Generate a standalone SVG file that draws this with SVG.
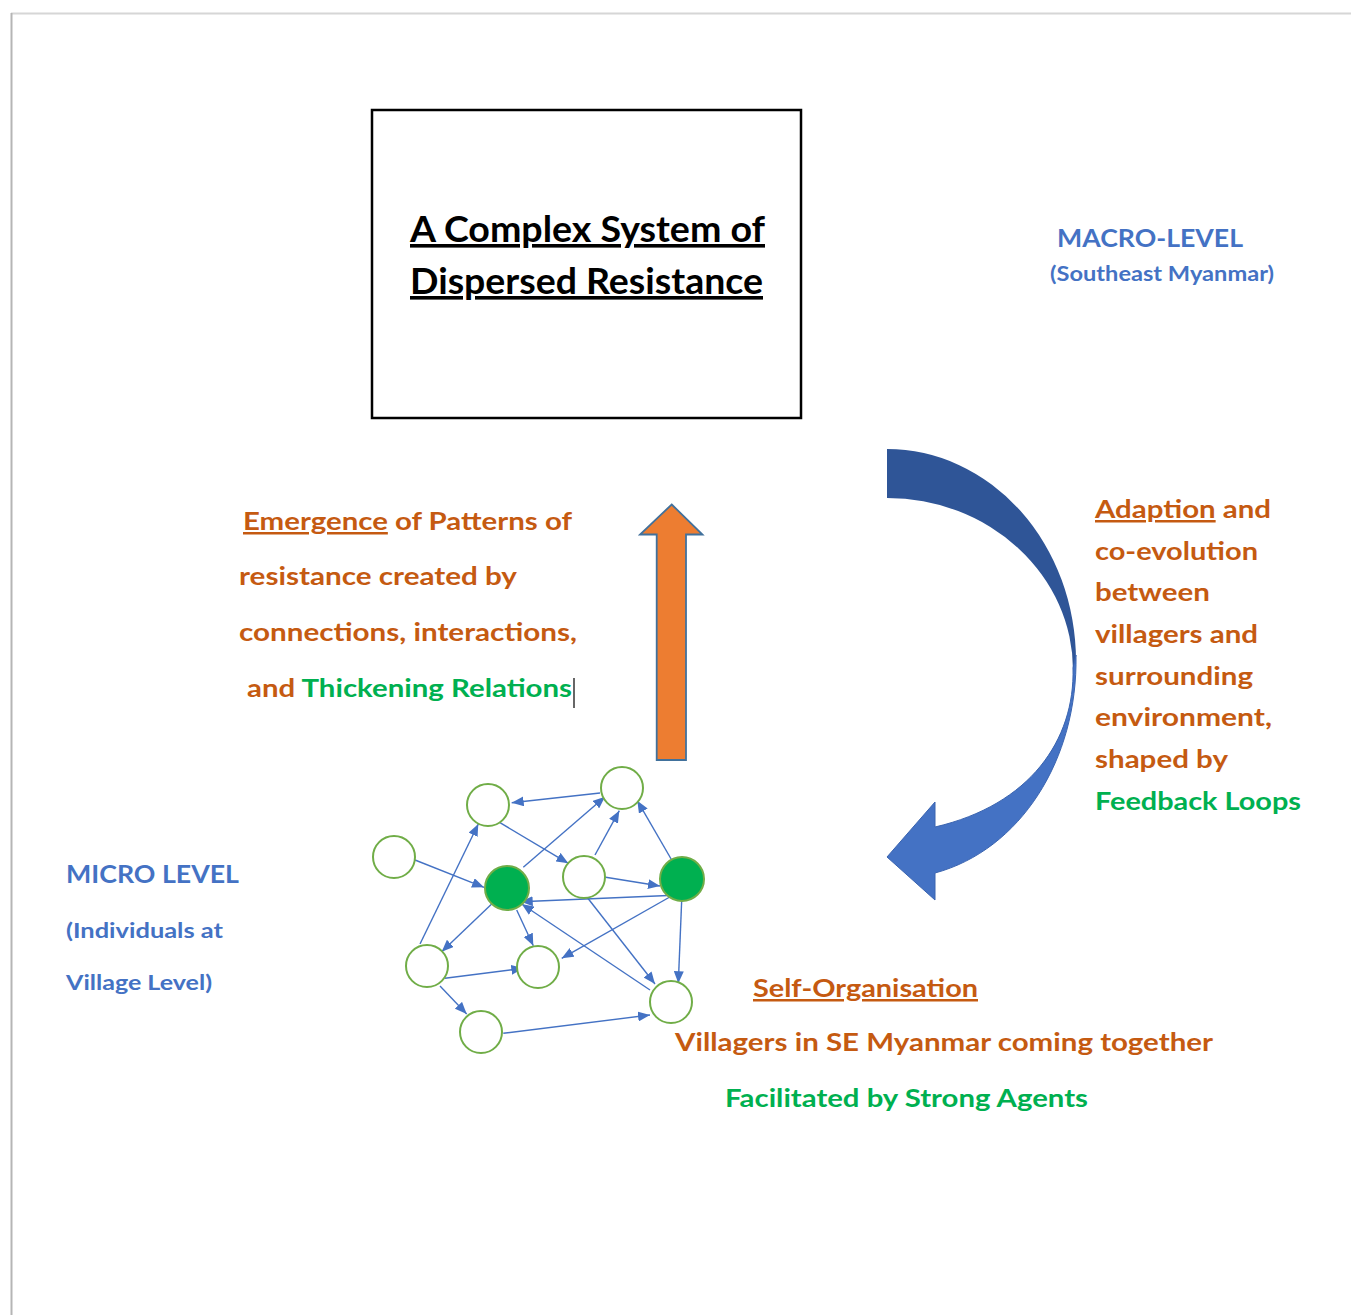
<svg xmlns="http://www.w3.org/2000/svg" width="1357" height="1315" viewBox="0 0 1357 1315">
<defs>
<marker id="ah" markerUnits="userSpaceOnUse" markerWidth="12" markerHeight="10" refX="12" refY="5" orient="auto">
<path d="M0,0 L12,5 L0,10 z" fill="#4472C4"/>
</marker>
<style>
.t{font-family:Lato,"Open Sans","Liberation Sans",sans-serif;font-weight:700;text-decoration-skip-ink:none}
.or{fill:#C55A11}
.gr{fill:#00B050}
.bl{fill:#4472C4}
.node{fill:#FFFFFF;stroke:#70AD47;stroke-width:2}
.hub{fill:#00B050;stroke:#70AD47;stroke-width:2}
.edge{stroke:#4472C4;stroke-width:1.4;fill:none;marker-end:url(#ah)}
</style>
</defs>
<rect width="1357" height="1315" fill="#FFFFFF"/>
<line x1="11" y1="13.5" x2="1351" y2="13.5" stroke="#D6D6D6" stroke-width="2"/>
<line x1="11.5" y1="13" x2="11.5" y2="1315" stroke="#B5B5B5" stroke-width="2"/>

<g id="title">
<rect x="372" y="110" width="429" height="308" fill="#FFFFFF" stroke="#000000" stroke-width="2.5"/>
<text class="t" x="410" y="242" font-size="36" fill="#000000" text-decoration="underline" textLength="355" lengthAdjust="spacingAndGlyphs">A Complex System of</text>
<text class="t" x="410" y="294" font-size="36" fill="#000000" text-decoration="underline" textLength="353" lengthAdjust="spacingAndGlyphs">Dispersed Resistance</text>
</g>

<g id="macro-label">
<text class="t bl" x="1057" y="247" font-size="24" textLength="186" lengthAdjust="spacingAndGlyphs">MACRO-LEVEL</text>
<text class="t bl" x="1050" y="281" font-size="20" textLength="224" lengthAdjust="spacingAndGlyphs">(Southeast Myanmar)</text>
</g>

<g id="emergence-arrow">
<path d="M671.7,504.5 L702.5,534.5 L686,534.5 L686,760 L656.7,760 L656.7,534.5 L640,534.5 Z" fill="#ED7D31" stroke="#41719C" stroke-width="1.8" stroke-linejoin="miter"/>
</g>

<g id="emergence-label">
<text class="t or" x="243" y="530" font-size="25" textLength="329" lengthAdjust="spacingAndGlyphs"><tspan text-decoration="underline">Emergence</tspan> of Patterns of</text>
<text class="t or" x="239" y="585" font-size="25" textLength="278" lengthAdjust="spacingAndGlyphs">resistance created by</text>
<text class="t or" x="239" y="641" font-size="25" textLength="338" lengthAdjust="spacingAndGlyphs">connections, interactions,</text>
<text class="t or" x="247" y="697" font-size="25" textLength="325" lengthAdjust="spacingAndGlyphs">and <tspan class="gr">Thickening Relations</tspan></text>
<line x1="574" y1="678" x2="574" y2="708" stroke="#000000" stroke-width="1.2"/>
</g>

<g id="adaption-arrow">
<path d="M887,449 A189,212 0 0 1 1076,661 L1073,670 A186,172 0 0 0 887,498 Z" fill="#2F5597"/>
<path d="M1076,655 C1078,760 1020,850 935,873 L935,900 L887,857 L935,802 L935,827 C1030,805 1075,740 1073,668 Z" fill="#4472C4" stroke="#3A64B0" stroke-width="1"/>
</g>

<g id="adaption-label">
<text class="t or" x="1095" y="518" font-size="25" textLength="176" lengthAdjust="spacingAndGlyphs"><tspan text-decoration="underline">Adaption</tspan> and</text>
<text class="t or" x="1095" y="560" font-size="25" textLength="163" lengthAdjust="spacingAndGlyphs">co-evolution</text>
<text class="t or" x="1095" y="601" font-size="25" textLength="115" lengthAdjust="spacingAndGlyphs">between</text>
<text class="t or" x="1095" y="643" font-size="25" textLength="163" lengthAdjust="spacingAndGlyphs">villagers and</text>
<text class="t or" x="1095" y="685" font-size="25" textLength="158" lengthAdjust="spacingAndGlyphs">surrounding</text>
<text class="t or" x="1095" y="726" font-size="25" textLength="177" lengthAdjust="spacingAndGlyphs">environment,</text>
<text class="t or" x="1095" y="768" font-size="25" textLength="133" lengthAdjust="spacingAndGlyphs">shaped by</text>
<text class="t gr" x="1095" y="810" font-size="25" textLength="206" lengthAdjust="spacingAndGlyphs">Feedback Loops</text>
</g>

<g id="micro-label">
<text class="t bl" x="66" y="883" font-size="25" textLength="173" lengthAdjust="spacingAndGlyphs">MICRO LEVEL</text>
<text class="t bl" x="66" y="938" font-size="21" textLength="157" lengthAdjust="spacingAndGlyphs">(Individuals at</text>
<text class="t bl" x="66" y="990" font-size="21" textLength="146" lengthAdjust="spacingAndGlyphs">Village Level)</text>
</g>

<g id="self-organisation-label">
<text class="t or" x="753" y="997" font-size="25" text-decoration="underline" textLength="225" lengthAdjust="spacingAndGlyphs">Self-Organisation</text>
<text class="t or" x="675" y="1051" font-size="25" textLength="538" lengthAdjust="spacingAndGlyphs">Villagers in SE Myanmar coming together</text>
<text class="t gr" x="725" y="1107" font-size="25" textLength="363" lengthAdjust="spacingAndGlyphs">Facilitated by Strong Agents</text>
</g>

<g id="connectors">
<line class="edge" x1="600" y1="793" x2="511.7" y2="802.7"/>
<line class="edge" x1="498.3" y1="821.7" x2="568.3" y2="863.3"/>
<line class="edge" x1="523.3" y1="867.3" x2="605" y2="796.7"/>
<line class="edge" x1="595" y1="855" x2="619.3" y2="810.7"/>
<line class="edge" x1="671.7" y1="860" x2="637.3" y2="800.7"/>
<line class="edge" x1="415" y1="860" x2="484" y2="887.3"/>
<line class="edge" x1="605.7" y1="877.3" x2="660" y2="886"/>
<line class="edge" x1="680" y1="895" x2="520.7" y2="901.7"/>
<line class="edge" x1="420" y1="944" x2="478.3" y2="824"/>
<line class="edge" x1="491.7" y1="904" x2="441.7" y2="951.7"/>
<line class="edge" x1="516.7" y1="910" x2="533.3" y2="945.7"/>
<line class="edge" x1="673.3" y1="895" x2="561.7" y2="958.3"/>
<line class="edge" x1="650" y1="990" x2="521.7" y2="904"/>
<line class="edge" x1="586.7" y1="896.7" x2="655" y2="984"/>
<line class="edge" x1="681.7" y1="900" x2="678.3" y2="983.3"/>
<line class="edge" x1="445" y1="978.3" x2="523.3" y2="968.3"/>
<line class="edge" x1="440" y1="986" x2="466.7" y2="1014"/>
<line class="edge" x1="503.3" y1="1033.3" x2="650" y2="1015"/>
</g>

<g id="n1"><circle class="node" cx="488" cy="805" r="21"/></g>
<g id="n2"><circle class="node" cx="622" cy="788" r="21"/></g>
<g id="n3"><circle class="node" cx="394" cy="857" r="21"/></g>
<g id="g1"><circle class="hub" cx="507" cy="888" r="22"/></g>
<g id="n4"><circle class="node" cx="584" cy="877" r="21"/></g>
<g id="g2"><circle class="hub" cx="682" cy="879" r="22"/></g>
<g id="n5"><circle class="node" cx="427" cy="966" r="21"/></g>
<g id="n6"><circle class="node" cx="538" cy="967" r="21"/></g>
<g id="n7"><circle class="node" cx="671" cy="1002" r="21"/></g>
<g id="n8"><circle class="node" cx="481" cy="1032" r="21"/></g>
</svg>
